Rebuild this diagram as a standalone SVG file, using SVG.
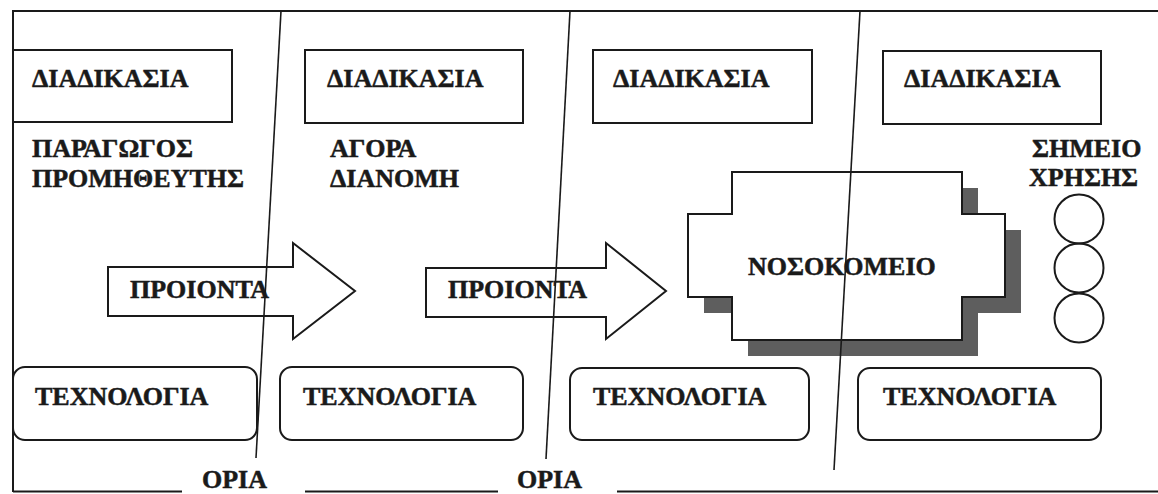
<svg xmlns="http://www.w3.org/2000/svg" width="1158" height="494" viewBox="0 0 1158 494">
<style>
.ln{stroke:#1a1a1a;stroke-width:2;fill:none}
.dv{stroke:#1a1a1a;stroke-width:1.6;fill:none}
.bx{stroke:#1a1a1a;stroke-width:2;fill:#fff}
.t{font-family:"Liberation Serif","Times New Roman",serif;font-weight:bold;font-size:26px;fill:#1a1a1a;stroke:#1a1a1a;stroke-width:0.5}
.sh{fill:#5e5e5e}
</style>
<rect width="1158" height="494" fill="#fff"/>
<g id="frame">
<path class="ln" d="M13,492 V11 H1158"/>
<path class="ln" d="M13,491.5 H182 M305,491.5 H498 M617,491.5 H1158"/>
</g>
<g id="proc1"><rect class="bx" x="13" y="50" width="219" height="72"/><text class="t" x="32" y="87">ΔΙΑΔΙΚΑΣΙΑ</text></g>
<g id="proc2"><rect class="bx" x="305" y="50" width="218" height="73"/><text class="t" x="327" y="87">ΔΙΑΔΙΚΑΣΙΑ</text></g>
<g id="proc3"><rect class="bx" x="593" y="50" width="219" height="73"/><text class="t" x="613" y="87">ΔΙΑΔΙΚΑΣΙΑ</text></g>
<g id="proc4"><rect class="bx" x="883" y="51" width="218" height="73"/><text class="t" x="904" y="87">ΔΙΑΔΙΚΑΣΙΑ</text></g>
<g id="producer"><text class="t" x="32" y="157">ΠΑΡΑΓΩΓΟΣ</text><text class="t" x="32" y="187">ΠΡΟΜΗΘΕΥΤΗΣ</text></g>
<g id="market"><text class="t" x="330" y="157">ΑΓΟΡΑ</text><text class="t" x="330" y="187">ΔΙΑΝΟΜΗ</text></g>
<g id="usepoint"><text class="t" x="1032" y="157">ΣΗΜΕΙΟ</text><text class="t" x="1029" y="186">ΧΡΗΣΗΣ</text>
<circle class="ln" cx="1079" cy="219" r="24.5"/><circle class="ln" cx="1079" cy="268" r="24.5"/><circle class="ln" cx="1079" cy="318" r="24.5"/></g>
<g id="arrow1"><path class="ln" d="M108,267 H293 V243 L355,291 L293,339 V316 H108 Z"/><text class="t" x="130" y="298">ΠΡΟΙΟΝΤΑ</text></g>
<g id="arrow2"><path class="ln" d="M426,268 H606 V243 L666,291 L606,339 V317 H426 Z"/><text class="t" x="448" y="298">ΠΡΟΙΟΝΤΑ</text></g>
<g id="hospital">
<path class="sh" d="M748,188 H978 V230 H1021 V313 H978 V356 H748 V313 H704 V230 H748 Z"/>
<path class="bx" d="M732,172 H962 V214 H1005 V297 H962 V340 H732 V297 H688 V214 H732 Z"/>
<text class="t" x="748" y="275">ΝΟΣΟΚΟΜΕΙΟ</text>
</g>
<g id="tech1"><rect class="bx" x="13" y="367" width="244" height="73" rx="12"/><text class="t" x="35" y="405">ΤΕΧΝΟΛΟΓΙΑ</text></g>
<g id="tech2"><rect class="bx" x="280" y="367" width="243" height="73" rx="12"/><text class="t" x="303" y="405">ΤΕΧΝΟΛΟΓΙΑ</text></g>
<g id="tech3"><rect class="bx" x="570" y="368" width="239" height="72" rx="12"/><text class="t" x="593" y="405">ΤΕΧΝΟΛΟΓΙΑ</text></g>
<g id="tech4"><rect class="bx" x="858" y="368" width="243" height="72" rx="12"/><text class="t" x="883" y="405">ΤΕΧΝΟΛΟΓΙΑ</text></g>
<g id="bounds"><text class="t" x="202" y="488">ΟΡΙΑ</text><text class="t" x="517" y="488">ΟΡΙΑ</text></g>
<g id="connectors">
<line class="dv" x1="281" y1="11" x2="256" y2="458"/>
<line class="dv" x1="570" y1="11" x2="546" y2="459"/>
<line class="dv" x1="860" y1="11" x2="834" y2="470"/>
</g>
</svg>
